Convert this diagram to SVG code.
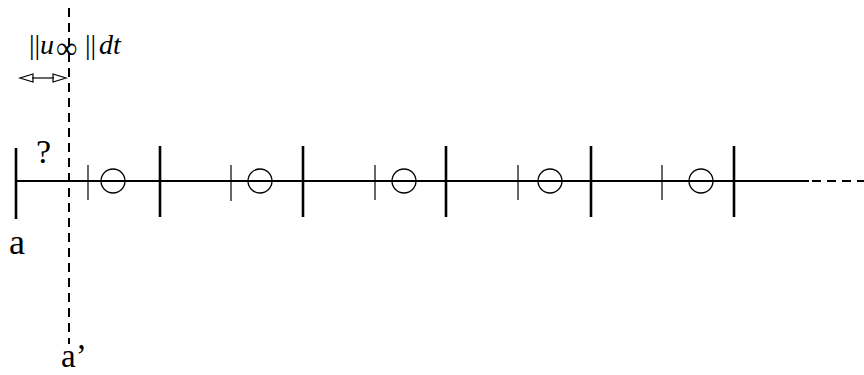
<svg xmlns="http://www.w3.org/2000/svg" width="864" height="375" viewBox="0 0 864 375">
<style>
.main{stroke:#000;stroke-width:2.2;fill:none}
.big{stroke:#000;stroke-width:2.6}
.small{stroke:#000;stroke-width:1.2}
.circ{stroke:#000;stroke-width:1.3;fill:none}
.dash{stroke:#000;stroke-width:2;stroke-dasharray:9,6;fill:none}
.t{font-family:"Liberation Serif","DejaVu Serif",serif;fill:#000}
.i{font-style:italic}
</style>
<rect width="864" height="375" fill="#fff"/>
<g id="connectors">
<line class="main" x1="16" y1="181" x2="809" y2="181"/>
<line class="dash" x1="812" y1="181" x2="864" y2="181"/>
<line class="dash" x1="69" y1="8" x2="69" y2="344"/>
<g id="arrow" stroke="#000" stroke-width="1.2" fill="none">
<line x1="32" y1="78" x2="54" y2="78"/>
<path d="M33,74 L20,78 L33,82 Z"/>
<path d="M53,74 L66,78 L53,82 Z"/>
</g>
</g>
<g id="ticks">
<line class="big" x1="16" y1="148" x2="16" y2="219"/>
<line class="big" x1="160" y1="146" x2="160" y2="217"/>
<line class="big" x1="303" y1="146" x2="303" y2="217"/>
<line class="big" x1="446" y1="146" x2="446" y2="217"/>
<line class="big" x1="591" y1="146" x2="591" y2="217"/>
<line class="big" x1="734" y1="146" x2="734" y2="217"/>
<line class="small" x1="88" y1="165" x2="88" y2="200"/>
<line class="small" x1="231" y1="165" x2="231" y2="201"/>
<line class="small" x1="375" y1="165" x2="375" y2="200"/>
<line class="small" x1="518" y1="165" x2="518" y2="200"/>
<line class="small" x1="662" y1="165" x2="662" y2="200"/>
</g>
<g id="circles">
<circle class="circ" cx="113" cy="181" r="12"/>
<circle class="circ" cx="260" cy="181" r="12"/>
<circle class="circ" cx="404" cy="181" r="12"/>
<circle class="circ" cx="550" cy="181" r="12"/>
<circle class="circ" cx="701" cy="181" r="12"/>
</g>
<g id="labels">
<text class="t" x="36" y="163" font-size="34">?</text>
<text class="t" x="9" y="254" font-size="36">a</text>
<text class="t" x="61" y="367" font-size="33">a’</text>
<text class="t" font-size="28"><tspan x="29" y="54">||</tspan><tspan class="i" x="40" y="54">u</tspan><tspan x="56" y="58" font-size="30">∞</tspan><tspan x="85" y="54">||</tspan><tspan class="i" x="99" y="54">dt</tspan></text>
</g>
</svg>
